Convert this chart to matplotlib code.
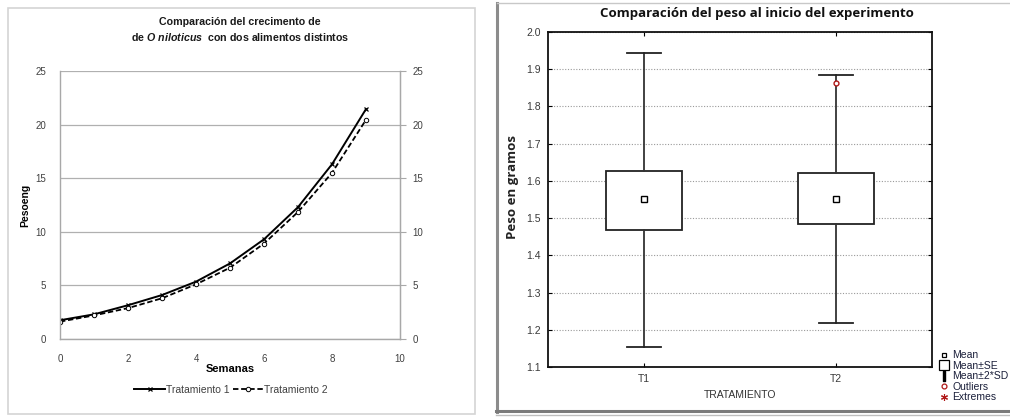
import matplotlib
matplotlib.use("Agg")
import matplotlib.pyplot as plt
from matplotlib.lines import Line2D
from matplotlib.patches import Rectangle

plt.rcParams['font.family'] = ['Liberation Sans', 'DejaVu Sans']
plt.rcParams['mathtext.fontset'] = 'custom'
plt.rcParams['mathtext.it'] = 'Liberation Sans:bold:italic'
plt.rcParams['mathtext.rm'] = 'Liberation Sans:bold'
plt.rcParams['mathtext.bf'] = 'Liberation Sans:bold'

# ---------------- data ----------------
semanas = [0, 1, 2, 3, 4, 5, 6, 7, 8, 9]
tratamiento1 = [1.75, 2.3, 3.15, 4.1, 5.35, 7.05, 9.3, 12.3, 16.3, 21.45]
tratamiento2 = [1.62, 2.2, 2.88, 3.8, 5.1, 6.65, 8.9, 11.85, 15.5, 20.45]
series_labels = ["Tratamiento 1", "Tratamiento 2"]

grupos = ["T1", "T2"]
media = [1.551, 1.551]
se_bajo = [1.468, 1.485]
se_alto = [1.627, 1.621]
sd2_bajo = [1.154, 1.217]
sd2_alto = [1.944, 1.885]
atipicos = [[], [1.864]]

W, H = 1010, 419
fig = plt.figure(figsize=(W / 100, H / 100), dpi=100)

def fx(px):
    return px / W

def fy(py):
    return 1 - py / H

# outer panel frames
fig.patches.append(Rectangle((fx(8), fy(414)), fx(467), (406) / H, transform=fig.transFigure,
                             fill=False, edgecolor='#d4d4d4', linewidth=1.2))
fig.add_artist(Line2D([fx(497), fx(497)], [fy(412), fy(3)], color='#8c8c8c', lw=2.2))
fig.add_artist(Line2D([fx(496), fx(1010)], [fy(411), fy(411)], color='#7a7a7a', lw=2.2))
fig.add_artist(Line2D([fx(496), fx(1010)], [fy(415), fy(415)], color='#bdbdbd', lw=1.0))
fig.add_artist(Line2D([fx(497), fx(1010)], [fy(3), fy(3)], color='#c8c8c8', lw=1.0))

# ---------------- left chart ----------------
ax1 = fig.add_axes([fx(60), fy(339), fx(340), 268 / H])
ax1.plot(semanas, tratamiento1, color='black', lw=1.4, marker='x', ms=3, mew=0.9,
         label=series_labels[0])
ax1.plot(semanas, tratamiento2, color='black', lw=1.3, ls=(0, (3, 1.5)), marker='o', ms=3.2,
         mfc='white', mew=0.7, label=series_labels[1])
ax1.set_xlim(0, 10)
ax1.set_ylim(0, 25)
ax1.set_xticks([0, 2, 4, 6, 8, 10])
ax1.set_yticks([0, 5, 10, 15, 20, 25])
ax1.grid(axis='y', color='#b0b0b0', lw=0.9)
ax1.set_axisbelow(True)
ax1.spines['top'].set_visible(False)
for s in ['left', 'right', 'bottom']:
    ax1.spines[s].set_color('#a8a8a8')
    ax1.spines[s].set_linewidth(1.0)
ax1.tick_params(axis='both', labelsize=7, labelcolor='#404040', length=0)
ax1.tick_params(axis='x', pad=11)
ax1.tick_params(axis='y', pad=10)
ax1r = ax1.twinx()
ax1r.set_ylim(0, 25)
ax1r.set_yticks([0, 5, 10, 15, 20, 25])
ax1r.tick_params(axis='y', labelsize=7, labelcolor='#404040', length=4, color='#a8a8a8',
                 width=0.8, pad=5)
for s in ['top', 'left', 'bottom']:
    ax1r.spines[s].set_visible(False)
ax1r.spines['right'].set_color('#a8a8a8')

ax1.set_xlabel('Semanas', fontsize=8, fontweight='bold', labelpad=0)
ax1.set_ylabel('Pesoeng', fontsize=7.5, fontweight='bold')
ax1.yaxis.set_label_coords((30 - 60) / 340, 0.5)
fig.text(fx(240), fy(22), 'Comparación del crecimento de', ha='center', va='center',
         fontsize=7.7, fontweight='bold', color='#1a1a1a')
fig.text(fx(240), fy(37), r'de $\mathit{O\ niloticus}$  con dos alimentos distintos',
         ha='center', va='center', fontsize=7.7, fontweight='bold', color='#1a1a1a')
ax1.legend(loc='center', bbox_to_anchor=(fx(231), fy(390)), bbox_transform=fig.transFigure,
           ncol=2, frameon=False, fontsize=7.5, handlelength=3.0, handletextpad=0.05,
           columnspacing=0.3, labelcolor='#404040')

# ---------------- right chart ----------------
ax2 = fig.add_axes([fx(548), fy(367), fx(384), 335 / H])
stats = []
for i in range(len(grupos)):
    stats.append(dict(med=media[i], q1=se_bajo[i], q3=se_alto[i], whislo=sd2_bajo[i],
                      whishi=sd2_alto[i], fliers=atipicos[i], mean=media[i], label=grupos[i]))
ax2.bxp(stats, positions=[0, 1], widths=0.4, capwidths=0.18, showmeans=True,
        patch_artist=True,
        boxprops=dict(facecolor='white', edgecolor='#222222', linewidth=1.3),
        whiskerprops=dict(color='#333333', linewidth=1.3),
        capprops=dict(color='#222222', linewidth=1.3),
        medianprops=dict(linewidth=0),
        meanprops=dict(marker='s', markersize=4, markerfacecolor='white',
                       markeredgecolor='black', markeredgewidth=1.0),
        flierprops=dict(marker='o', markersize=3.5, markerfacecolor='white',
                        markeredgecolor='#b01818', markeredgewidth=1.0))
ax2.set_xlim(-0.5, 1.5)
ax2.set_ylim(1.1, 2.0)
ax2.set_yticks([1.1, 1.2, 1.3, 1.4, 1.5, 1.6, 1.7, 1.8, 1.9, 2.0])
ax2.set_yticklabels(['1.1', '1.2', '1.3', '1.4', '1.5', '1.6', '1.7', '1.8', '1.9', '2.0'])
ax2.yaxis.grid(True, color='#9a9a9a', ls=(0, (1, 1.5)), lw=0.8)
ax2.set_axisbelow(True)
for s in ax2.spines.values():
    s.set_color('#111111')
    s.set_linewidth(1.3)
ax2.tick_params(direction='in', length=3, top=True, right=True, labelsize=7.5,
                labelcolor='#3a3a3a', pad=5)
ax2.set_xlabel('TRATAMIENTO', fontsize=7.5, color='#333333', labelpad=4)
ax2.set_ylabel('Peso en gramos', fontsize=9.5, fontweight='bold', color='#222222',
               family=['Open Sans', 'DejaVu Sans'])
ax2.yaxis.set_label_coords((519 - 548) / 384, (367 - 187) / 335)
fig.text(fx(757), fy(13), 'Comparación del peso al inicio del experimento', ha='center',
         va='center', fontsize=9.5, fontweight='bold', color='#111111',
         family=['Open Sans', 'DejaVu Sans'])

leg_handles = [
    Line2D([], [], ls='none', marker='s', ms=3.5, mfc='white', mec='black', mew=0.9),
    Line2D([], [], ls='none', marker='s', ms=7, mfc='white', mec='black', mew=0.9),
    Line2D([], [], ls='none', marker=r'$\mathrm{I}$', ms=7, color='black'),
    Line2D([], [], ls='none', marker='o', ms=3.5, mfc='white', mec='#b01818', mew=0.9),
    Line2D([], [], ls='none', marker=(6, 2, 0), ms=5, color='#b01818', mew=0.8),
]
leg_labels = ['Mean', 'Mean±SE', 'Mean±2*SD', 'Outliers', 'Extremes']
fig.legend(leg_handles, leg_labels, loc='upper left', bbox_to_anchor=(fx(935), fy(345)),
           frameon=False, fontsize=7.5, handlelength=0.8, handletextpad=0.35,
           labelspacing=0.05, borderpad=0, labelcolor='#1a1f3a')

fig.savefig('out.png', dpi=100)
